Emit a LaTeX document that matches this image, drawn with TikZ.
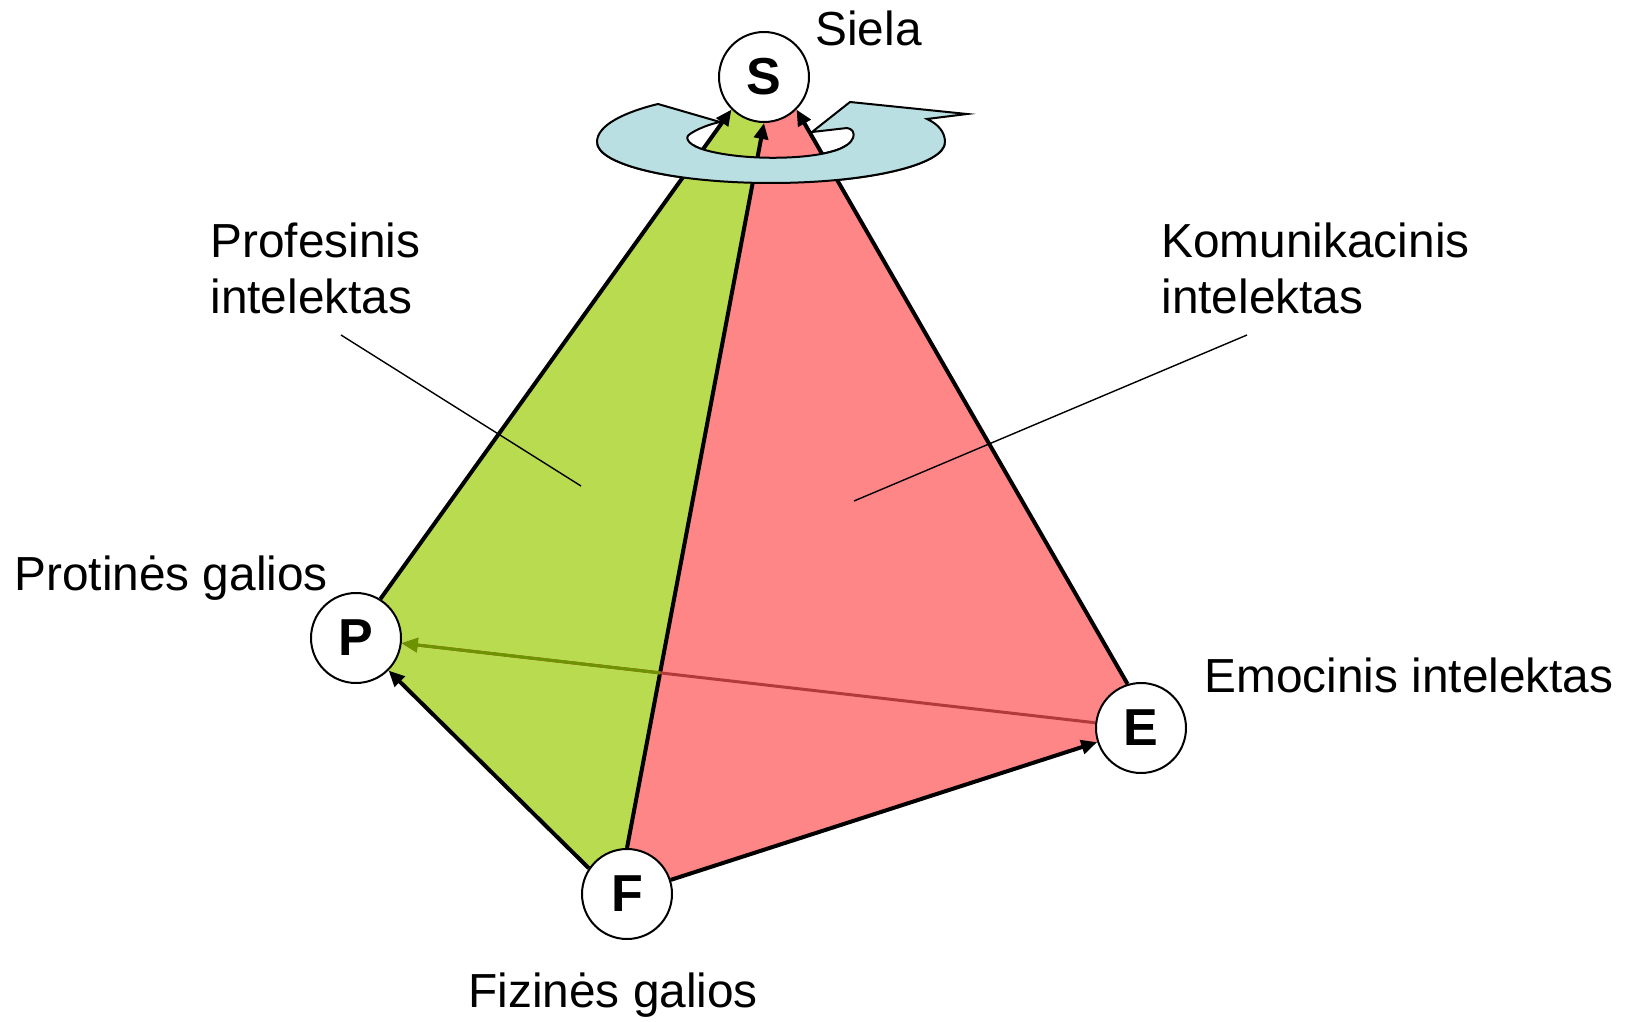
\documentclass[tikz,border=0pt]{standalone}
\usepackage{fontspec}
\setmainfont{Liberation Sans}
\usetikzlibrary{arrows.meta,backgrounds}
\definecolor{facegreen}{RGB}{185,219,79}
\definecolor{facered}{RGB}{255,134,134}
\definecolor{ringblue}{RGB}{185,223,227}
\definecolor{linkgreen}{RGB}{107,148,0}
\definecolor{linkred}{RGB}{178,58,58}
\newcommand{\ringpath}{(658,104) .. controls (625,112) and (597,125) .. (597,142)
  .. controls (597,165) and (675,183) .. (771,183)
  .. controls (867,183) and (945,165) .. (945,142)
  .. controls (945,132) and (938,124) .. (927,119)
  -- (967,114) -- (850,102) -- (812,132) -- (847,128)
  .. controls (857,129) and (859,145) .. (830,152)
  .. controls (800,160) and (740,160) .. (705,150)
  .. controls (690,146) and (683,138) .. (690,134)
  .. controls (697,129) and (710,124) .. (720,122) -- cycle}

\begin{document}
\begin{tikzpicture}[x=0.5pt, y=-0.5pt,
    every node/.style={font=\fontsize{23.9}{28}\selectfont, inner sep=0pt},
    pole/.style={circle, draw, line width=1pt, fill=white, minimum size=45pt, font=\fontsize{26}{28}\selectfont\bfseries},
    lbl/.style={anchor=base west},
    edge/.style={line width=2pt, -{Triangle[length=8pt,width=7pt]}},
    link/.style={line width=1.5pt, -{Triangle[length=8pt,width=7pt]}},
    pointer/.style={line width=0.7pt},
    ring/.style={fill=ringblue, draw, line width=1pt}]
  \useasboundingbox (0,0) rectangle (1633,1022);
  \node (S) [pole] at (764,77) {S};
  \node (P) [pole] at (356,638) {P};
  \node (F) [pole] at (627,894) {F};
  \node (E) [pole] at (1141,728) {E};

  \node (siela) [lbl] at (815,46) {Siela};
  \node (profesinis) [anchor=north west, align=left] at (210,222) {Profesinis\\intelektas};
  \node (komunikacinis) [anchor=north west, align=left] at (1161,222) {Komunikacinis\\intelektas};
  \node (protines) [lbl] at (14,590) {Protinės galios};
  \node (emocinis) [lbl] at (1204,692) {Emocinis intelektas};
  \node (fizines) [lbl] at (468,1007) {Fizinės galios};

  \coordinate (profesinis foot) at (341,335);
  \coordinate (profesinis tip) at (581,486);
  \coordinate (komunikacinis foot) at (1247,335);
  \coordinate (komunikacinis tip) at (854,501);
  \draw[pointer] (profesinis foot) -- (profesinis tip);
  \draw[pointer] (komunikacinis foot) -- (komunikacinis tip);

  \begin{scope}[on background layer]
    \filldraw[ring] \ringpath;
    \fill[facegreen] (P.center) -- (P.58) -- (S.-135) -- (S.-90) -- (F.90) -- (F.146) -- cycle;
    \fill[facered] (F.center) -- (F.90) -- (S.-90) -- (S.-45) -- (E.107) -- (E.center) -- cycle;
    \draw[edge] (P.58) -- (S.-135);
    \draw[edge] (F.90) -- (S.-90);
    \draw[edge] (E.107) -- (S.-45);
    \draw[edge] (F.146) -- (P.-45);
    \draw[edge] (F) -- (E);
    \draw[link, linkred] (E) -- (P);
    \begin{scope}
      \clip (P.center) -- (P.58) -- (S.-135) -- (S.-90) -- (F.90) -- (F.146) -- cycle;
      \draw[link, linkgreen] (E) -- (P);
    \end{scope}
    \begin{scope}
      \clip (0,145) rectangle (1633,300);
      \filldraw[ring] \ringpath;
    \end{scope}
  \end{scope}
\end{tikzpicture}
\end{document}
